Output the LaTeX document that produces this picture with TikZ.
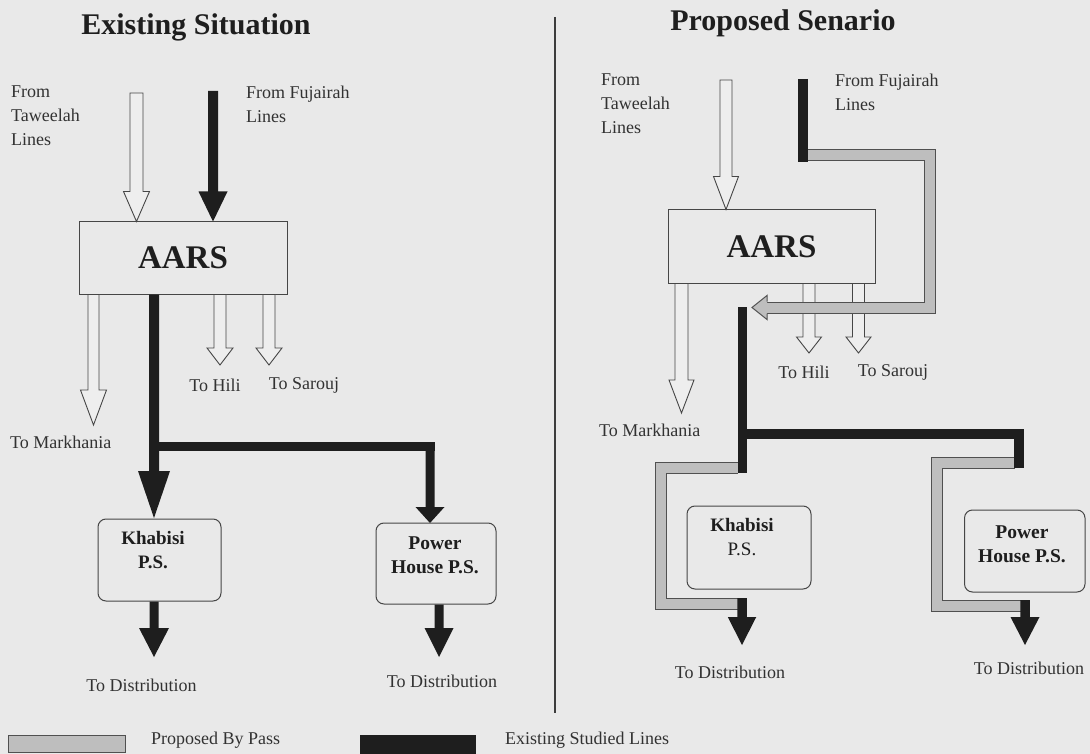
\documentclass[tikz,border=0pt]{standalone}
\usepackage{fontspec}
\setmainfont{Liberation Serif}
\usetikzlibrary{calc}
\definecolor{bg}{RGB}{233,233,233}
\definecolor{ink}{RGB}{30,30,30}
\definecolor{txt}{RGB}{50,50,50}
\definecolor{edge}{RGB}{70,70,70}
\definecolor{bandfill}{RGB}{190,190,190}
\definecolor{bandedge}{RGB}{80,80,80}
\definecolor{hollowfill}{RGB}{238,238,238}
% vertical block arrow: style, start, tip, shaft half width, head half width, head length
\newcommand{\blockarrow}[6]{%
  \path[#1] let \p1=(#2), \p2=(#3) in
  (\x1-#4,\y1) -- (\x1-#4,\y2+#6) -- (\x1-#5,\y2+#6) -- (\x1,\y2)
  -- (\x1+#5,\y2+#6) -- (\x1+#4,\y2+#6) -- (\x1+#4,\y1) -- cycle;}
\tikzset{
  hollowarr/.style={draw=edge, fill=hollowfill, line width=0.9pt, line join=miter},
  blkhead/.style={fill=ink},
  blkline/.style={draw=ink, line width=10pt},
  band/.style={draw=bandedge, line width=1pt, double=bandfill, double distance=10pt, line join=miter},
  aars/.style={draw=edge, line width=1pt, inner sep=0pt, text=ink, font=\bfseries\fontsize{33}{36}\selectfont},
  psbox/.style={draw=edge, line width=1pt, rounded corners=8pt, inner sep=0pt},
  pstext/.style={text=ink, inner sep=0pt, align=center, font=\fontsize{19}{24}\selectfont},
  lbl/.style={text=txt, inner sep=0pt, align=left, font=\fontsize{18}{24}\selectfont},
  ttl/.style={text=ink, inner sep=0pt, font=\bfseries\fontsize{30}{36}\selectfont},
}
\begin{document}
\begin{tikzpicture}[x=1pt,y=-1pt]
\fill[bg] (0,0) rectangle (1090,754);
\useasboundingbox (0,0) rectangle (1090,754);

% ================= LEFT: Existing Situation =================
\node[ttl] (t1) at (196,27) {Existing Situation};
\node[lbl, anchor=west] (tawLblL) at (11,116) {From\\Taweelah\\Lines};
\node[lbl, anchor=west] (fujLblL) at (246,104) {From Fujairah\\Lines};
\node[aars, minimum width=208pt, minimum height=72pt] (aarsL) at (183,258) {AARS};

\coordinate (tawTopL) at (136.5,93);
\blockarrow{hollowarr}{tawTopL}{aarsL.north -| tawTopL}{6.5pt}{13pt}{30pt}
\coordinate (fujTopL) at (213,91);
\blockarrow{blkhead}{fujTopL}{aarsL.north -| fujTopL}{5pt}{14.5pt}{30pt}

\coordinate (mkhL) at (93.5,425);
\blockarrow{hollowarr}{aarsL.south -| mkhL}{mkhL}{5.5pt}{13pt}{35pt}
\node[lbl, anchor=west] (mkhLblL) at (10,442) {To Markhania};
\coordinate (hiliL) at (220,365);
\blockarrow{hollowarr}{aarsL.south -| hiliL}{hiliL}{6pt}{13pt}{17pt}
\coordinate (sarL) at (269,365);
\blockarrow{hollowarr}{aarsL.south -| sarL}{sarL}{6pt}{13pt}{17pt}
\node[lbl] (hiliLblL) at (215,385) {To Hili};
\node[lbl] (sarLblL) at (304,385) {To Sarouj};

\node[psbox, minimum width=123pt, minimum height=82pt] (khL) at (159.5,560) {};
\node[pstext, font=\bfseries\fontsize{19}{24}\selectfont] (khLt) at (153,550) {Khabisi\\P.S.};
\node[psbox, minimum width=120pt, minimum height=81pt] (pwL) at (436,563.5) {};
\node[pstext, font=\bfseries\fontsize{19.5}{24}\selectfont] (pwLt) at (435,555) {Power\\House P.S.};

\coordinate (khInL) at (154,518);
\blockarrow{blkhead}{aarsL.south -| khInL}{khInL}{5pt}{16pt}{47pt}
\coordinate (brL) at (154,446);
\coordinate (pwInL) at (430,523);
\draw[blkline, line width=9pt, line cap=rect] (brL) -- (brL -| pwInL);
\blockarrow{blkhead}{brL -| pwInL}{pwInL}{4.5pt}{14.5pt}{16pt}

\coordinate (khOutL) at (154,657);
\blockarrow{blkhead}{khL.south -| khOutL}{khOutL}{4.5pt}{15pt}{29pt}
\node[lbl] (khDistL) at (141.5,685) {To Distribution};
\coordinate (pwOutL) at (439,657);
\blockarrow{blkhead}{pwL.south -| pwOutL}{pwOutL}{4.5pt}{14.5pt}{29pt}
\node[lbl] (pwDistL) at (442,681) {To Distribution};

% divider
\coordinate (divTop) at (555,17);
\coordinate (divBot) at (555,713);
\draw[line width=2.5pt, draw=ink!85!bg] (divTop) -- (divBot);

% ================= RIGHT: Proposed Senario =================
\node[ttl] (t2) at (783,23) {Proposed Senario};
\node[lbl, anchor=west] (tawLblR) at (601,104) {From\\Taweelah\\Lines};
\node[lbl, anchor=west] (fujLblR) at (835,92) {From Fujairah\\Lines};
\node[aars, minimum width=207pt, minimum height=73pt] (aarsR) at (771.5,246.5) {AARS};

\coordinate (tawTopR) at (726,80);
\blockarrow{hollowarr}{tawTopR}{aarsR.north -| tawTopR}{6pt}{12.5pt}{33pt}
\coordinate (mkhR) at (681.5,413);
\blockarrow{hollowarr}{aarsR.south -| mkhR}{mkhR}{6.5pt}{12.5pt}{33pt}
\node[lbl, anchor=west] (mkhLblR) at (599,430) {To Markhania};
\coordinate (hiliR) at (809,353);
\blockarrow{hollowarr}{aarsR.south -| hiliR}{hiliR}{6pt}{12.5pt}{16pt}
\coordinate (sarR) at (858.5,353);
\blockarrow{hollowarr}{aarsR.south -| sarR}{sarR}{6pt}{12.5pt}{16pt}
\node[lbl] (hiliLblR) at (804,372) {To Hili};
\node[lbl] (sarLblR) at (893,372) {To Sarouj};

% Fujairah line with by-pass
\coordinate (fujTopR) at (803,79);
\coordinate (fujBotR) at (803,162);
\draw[blkline] (fujTopR) -- (fujBotR);
\coordinate (bpA) at (808,155.5);
\coordinate (bpB) at (930,307.5);
\coordinate (bpHead) at (767,307.5);
\coordinate (bpTip) at (752,307.5);
\draw[band] (bpA) -| (bpB) -- (bpHead);
\fill[bandfill] let \p1=(bpHead), \p2=(bpTip) in (\x1,\y1+12pt) -- (\x2,\y2) -- (\x1,\y1-12pt) -- cycle;
\draw[bandedge, line width=1pt, line join=miter] let \p1=(bpHead), \p2=(bpTip) in
  (\x1,\y1+6pt) -- (\x1,\y1+12pt) -- (\x2,\y2) -- (\x1,\y1-12pt) -- (\x1,\y1-6pt);

% boxes
\node[psbox, minimum width=124pt, minimum height=83pt] (khR) at (749,547.5) {};
\node[pstext] (khRt) at (742,537.5) {\textbf{Khabisi}\\P.S.};
\node[psbox, minimum width=120.5pt, minimum height=82pt] (pwR) at (1024.75,551) {};
\node[pstext, font=\bfseries\fontsize{19.5}{24}\selectfont] (pwRt) at (1022,544) {Power\\House P.S.};

% by-pass bands around the P.S.
\coordinate (kbA) at (738,467.5);
\coordinate (kbB) at (661,603.5);
\coordinate (kbC) at (738,603.5);
\draw[band] (kbA) -| (kbB) -- (kbC);
\coordinate (pbA) at (1015,462.5);
\coordinate (pbB) at (937,606);
\coordinate (pbC) at (1021,606);
\draw[band] (pbA) -| (pbB) -- (pbC);

% studied black lines
\coordinate (mainTopR) at (742.5,307);
\coordinate (mainBotR) at (742.5,473);
\draw[blkline, line width=9.5pt] (mainTopR) -- (mainBotR);
\coordinate (brR) at (742.5,434);
\coordinate (pwTopR) at (1019,468);
\draw[blkline, line join=miter] (brR) -| (pwTopR);

\coordinate (khStartR) at (742,598);
\coordinate (khOutR) at (742,645);
\blockarrow{blkhead}{khStartR}{khOutR}{4.75pt}{14.25pt}{28pt}
\coordinate (pwStartR) at (1025,600);
\coordinate (pwOutR) at (1025,645);
\blockarrow{blkhead}{pwStartR}{pwOutR}{4.75pt}{14.5pt}{28pt}
\node[lbl] (khDistR) at (730,672) {To Distribution};
\node[lbl] (pwDistR) at (1029,668) {To Distribution};

% ================= legend =================
\node[draw=bandedge, line width=1pt, fill=bandfill, minimum width=117pt, minimum height=17pt, inner sep=0pt] (legG) at (66.5,743.5) {};
\node[lbl, anchor=west] (legGt) at (151,740) {Proposed By Pass};
\node[fill=ink, minimum width=116pt, minimum height=19pt, inner sep=0pt] (legB) at (418,744.5) {};
\node[lbl, anchor=west] (legBt) at (505,740) {Existing Studied Lines};
\end{tikzpicture}
\end{document}
